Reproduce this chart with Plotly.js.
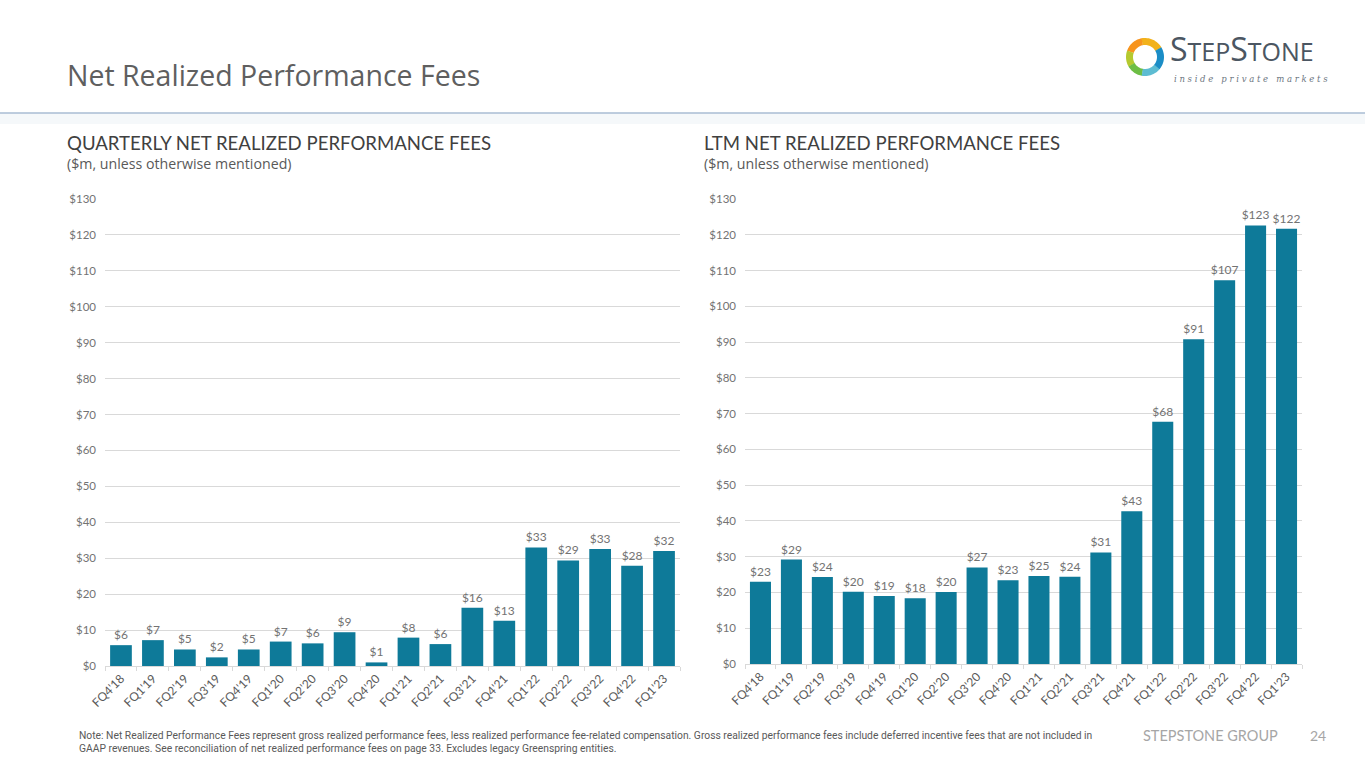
<!DOCTYPE html>
<html>
<head>
<meta charset="utf-8">
<script src="https://cdn.plot.ly/plotly-3.0.1.min.js"></script>
<style>
  body { margin: 0; background: #fff; }
  #graph { width: 1365px; height: 768px; }
</style>
</head>
<body>
<div id="graph"></div>
<script>
// quarter labels shared by both charts
const quarters = ["FQ4'18", "FQ1'19", "FQ2'19", "FQ3'19", "FQ4'19", "FQ1'20", "FQ2'20", "FQ3'20", "FQ4'20",
    "FQ1'21", "FQ2'21", "FQ3'21", "FQ4'21", "FQ1'22", "FQ2'22", "FQ3'22", "FQ4'22", "FQ1'23"];

// quarterly net realized performance fees ($m)
const quarterlyFees = [5.8, 7.2, 4.6, 2.4, 4.6, 6.8, 6.3, 9.4, 1.0, 7.9, 6.1, 16.2, 12.6, 33.0, 29.4, 32.6, 27.9, 32.0];

// LTM net realized performance fees ($m)
const ltmFees = [23.0, 29.2, 24.3, 20.2, 19.0, 18.4, 20.1, 27.0, 23.4, 24.6, 24.4, 31.2, 42.7, 67.7, 90.8, 107.3, 122.6, 121.7];

const W = 1365, H = 768;
const px = x => x / W;          // pixel -> paper x
const py = y => 1 - y / H;      // pixel -> paper y

const barColor = '#0E7A99';
const greyText = '#595959';
const lightText = '#737373';
const font = 'Lato, "Open Sans", sans-serif';
const openSans = 'Open Sans';

function barTrace(y, xa, ya) {
    return {
        type: 'bar',
        x: quarters,
        y: y,
        xaxis: xa,
        yaxis: ya,
        marker: {color: barColor},
        text: y.map(v => '$' + Math.round(v)),
        textposition: 'outside',
        constraintext: 'none',
        textfont: {family: font, size: 12, color: lightText},
        cliponaxis: false,
        hoverinfo: 'x+y'
    };
}

const data = [barTrace(quarterlyFees, 'x', 'y'), barTrace(ltmFees, 'x2', 'y2')];

function xAxis(d0, d1, anchor) {
    return {
        domain: [px(d0), px(d1)],
        anchor: anchor,
        type: 'category',
        tickangle: -45,
        tickfont: {family: font, size: 12, color: greyText},
        showline: true,
        linecolor: '#D9D9D9',
        ticks: 'outside',
        tickson: 'boundaries',
        ticklen: 4,
        tickcolor: '#D9D9D9',
        showgrid: false,
        fixedrange: true
    };
}

function yAxis(top, bottom, anchor) {
    return {
        domain: [py(bottom), py(top)],
        anchor: anchor,
        range: [0, 130],
        dtick: 10,
        tickprefix: '$',
        tickfont: {family: font, size: 11.5, color: lightText},
        gridcolor: '#D9D9D9',
        gridwidth: 1,
        zeroline: false,
        showline: false,
        ticklabelstandoff: 8,
        fixedrange: true
    };
}

// logo ring segments (paper coords around a centre)
const cx = 1145, cy = 57, rOut = 19, rIn = 12;
function arcPath(a0, a1) {
    const pts = [];
    const n = 16;
    for (let i = 0; i <= n; i++) {
        const a = (a0 + (a1 - a0) * i / n) * Math.PI / 180;
        pts.push([px(cx + rOut * Math.cos(a)), py(cy - rOut * Math.sin(a))]);
    }
    for (let i = n; i >= 0; i--) {
        const a = (a0 + (a1 - a0) * i / n) * Math.PI / 180;
        pts.push([px(cx + rIn * Math.cos(a)), py(cy - rIn * Math.sin(a))]);
    }
    return 'M' + pts.map(p => p[0].toFixed(5) + ',' + p[1].toFixed(5)).join('L') + 'Z';
}
const ringColors = [
    [30, 100, '#F2B21B'], [100, 160, '#F7941D'], [160, 210, '#B5C92F'],
    [210, 260, '#6DBE45'], [260, 320, '#5DBCD2'], [320, 390, '#1B8DC6']
];
const ringShapes = ringColors.map(c => ({
    type: 'path', xref: 'paper', yref: 'paper', path: arcPath(c[0], c[1] + 1),
    fillcolor: c[2], line: {width: 0}, layer: 'above'
}));

function note(text, x, y, size, color, family, anchor, yanchor) {
    return {text: text, x: px(x), y: py(y), xref: 'paper', yref: 'paper',
        xanchor: anchor || 'left', yanchor: yanchor || 'middle', align: 'left', showarrow: false,
        font: {family: family, size: size, color: color}};
}

const layout = {
    width: W,
    height: H,
    margin: {l: 0, r: 0, t: 0, b: 0},
    paper_bgcolor: '#fff',
    plot_bgcolor: '#fff',
    showlegend: false,
    bargap: 0.32,
    xaxis: xAxis(105, 680, 'y'),
    yaxis: yAxis(199, 666, 'x'),
    xaxis2: xAxis(745, 1302, 'y2'),
    yaxis2: yAxis(199, 664, 'x2'),
    shapes: [
        {type: 'rect', xref: 'paper', yref: 'paper', x0: 0, x1: 1, y0: py(124), y1: py(113),
            fillcolor: '#F5F8FA', line: {width: 0}, layer: 'below'},
        {type: 'line', xref: 'paper', yref: 'paper', x0: 0, x1: 1, y0: py(113), y1: py(113),
            line: {color: '#A9BDD3', width: 1.5}}
    ].concat(ringShapes),
    annotations: [
        note('Net Realized Performance Fees', 65, 75, 28.5, '#5F5F5F', openSans),
        note('QUARTERLY NET REALIZED PERFORMANCE FEES', 65, 143, 18.6, '#404040', font),
        note('($m, unless otherwise mentioned)', 65, 163, 14.2, greyText, openSans),
        note('LTM NET REALIZED PERFORMANCE FEES', 702, 143, 18.6, '#404040', font),
        note('($m, unless otherwise mentioned)', 702, 163, 14.2, greyText, openSans),
        note('Note: Net Realized Performance Fees represent gross realized performance fees, less realized performance fee-related compensation. Gross realized performance fees include deferred incentive fees that are not included in<br>GAAP revenues. See reconciliation of net realized performance fees on page 33. Excludes legacy Greenspring entities.',
            77, 742, 10.3, greyText, 'Roboto'),
        note('STEPSTONE GROUP', 1210, 735, 14.5, '#A6A6A6', font, 'center'),
        note('24', 1318, 735, 14, '#A6A6A6', font, 'center'),
        note('<span style="font-size:32px">S</span>TEP<span style="font-size:32px">S</span>TONE',
            1168, 72, 25, '#4B5662', openSans, 'left', 'bottom'),
        note('<i>i n s i d e   p r i v a t e   m a r k e t s</i>', 1172, 72, 8.5, '#6B7580', 'DejaVu Serif', 'left', 'top')
    ]
};

Plotly.newPlot('graph', data, layout, {displayModeBar: false, staticPlot: true});
</script>
</body>
</html>
